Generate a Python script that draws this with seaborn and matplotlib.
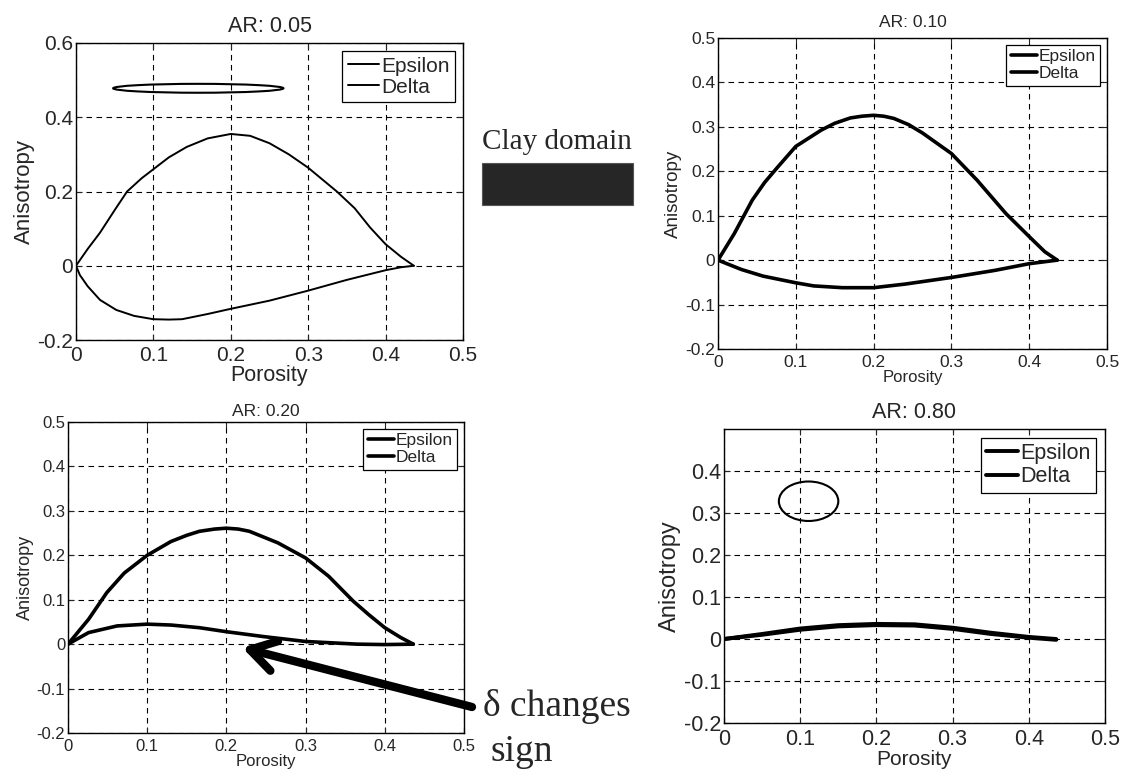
import matplotlib
matplotlib.use("Agg")
import matplotlib.pyplot as plt
from matplotlib.patches import Ellipse, Rectangle
import seaborn as sns
import pandas as pd

sns.set_style("ticks")
plt.rcParams['font.family'] = ['Liberation Sans', 'DejaVu Sans']

# ---------------- data ----------------
titles = ["AR: 0.05", "AR: 0.10", "AR: 0.20", "AR: 0.80"]
series_names = ["Epsilon", "Delta"]

# AR 0.05
eps05_x = [0, 0.015, 0.031, 0.05, 0.066, 0.085, 0.1, 0.12, 0.143, 0.17, 0.2, 0.225, 0.25, 0.275, 0.3, 0.337, 0.36, 0.38, 0.4, 0.42, 0.4365]
eps05_y = [0, 0.045, 0.089, 0.15, 0.2, 0.236, 0.26, 0.292, 0.32, 0.343, 0.355, 0.35, 0.33, 0.3, 0.264, 0.2, 0.155, 0.103, 0.058, 0.024, 0]
del05_x = [0, 0.005, 0.015, 0.031, 0.052, 0.075, 0.1, 0.12, 0.137, 0.17, 0.2, 0.25, 0.3, 0.35, 0.4, 0.42, 0.4365]
del05_y = [0, -0.025, -0.055, -0.092, -0.119, -0.135, -0.144, -0.145, -0.144, -0.13, -0.116, -0.094, -0.067, -0.038, -0.012, -0.004, 0]

# AR 0.10
eps10_x = [0, 0.021, 0.044, 0.06, 0.077, 0.1, 0.133, 0.15, 0.17, 0.185, 0.2, 0.213, 0.226, 0.245, 0.263, 0.3, 0.333, 0.37, 0.4, 0.42, 0.436]
eps10_y = [0, 0.06, 0.135, 0.175, 0.21, 0.256, 0.293, 0.308, 0.32, 0.324, 0.326, 0.324, 0.319, 0.305, 0.286, 0.24, 0.18, 0.105, 0.053, 0.019, 0]
del10_x = [0, 0.03, 0.058, 0.1, 0.123, 0.16, 0.2, 0.24, 0.3, 0.356, 0.4, 0.436]
del10_y = [0, -0.021, -0.036, -0.051, -0.058, -0.062, -0.062, -0.054, -0.039, -0.023, -0.008, 0]

# AR 0.20
eps20_x = [0, 0.026, 0.049, 0.071, 0.1, 0.13, 0.15, 0.166, 0.185, 0.2, 0.215, 0.229, 0.265, 0.3, 0.329, 0.36, 0.38, 0.4, 0.42, 0.436]
eps20_y = [0, 0.056, 0.116, 0.16, 0.2, 0.231, 0.245, 0.254, 0.259, 0.261, 0.259, 0.254, 0.228, 0.194, 0.153, 0.097, 0.066, 0.037, 0.015, 0]
del20_x = [0, 0.026, 0.062, 0.1, 0.13, 0.166, 0.2, 0.247, 0.3, 0.365, 0.4, 0.436]
del20_y = [0, 0.026, 0.041, 0.045, 0.043, 0.037, 0.028, 0.017, 0.006, 0.0, -0.001, 0]

# AR 0.80
eps80_x = [0, 0.05, 0.1, 0.15, 0.2, 0.25, 0.3, 0.35, 0.4, 0.436]
eps80_y = [0, 0.012, 0.025, 0.033, 0.036, 0.035, 0.027, 0.015, 0.005, 0]
del80_x = [0, 0.05, 0.1, 0.15, 0.2, 0.25, 0.3, 0.35, 0.4, 0.436]
del80_y = [0, 0.010, 0.022, 0.030, 0.033, 0.032, 0.024, 0.012, 0.003, -0.002]

xticks = [0, 0.1, 0.2, 0.3, 0.4, 0.5]
xticklabels = ["0", "0.1", "0.2", "0.3", "0.4", "0.5"]
yticks_a = [-0.2, 0, 0.2, 0.4, 0.6]
yticklabels_a = ["-0.2", "0", "0.2", "0.4", "0.6"]
yticks_b = [-0.2, -0.1, 0, 0.1, 0.2, 0.3, 0.4, 0.5]
yticklabels_b = ["-0.2", "-0.1", "0", "0.1", "0.2", "0.3", "0.4", "0.5"]
yticks_c = [-0.2, -0.1, 0, 0.1, 0.2, 0.3, 0.4]
yticklabels_c = ["-0.2", "-0.1", "0", "0.1", "0.2", "0.3", "0.4"]

# pore-shape ellipses (center x, center y, width, height)
ellipse05 = (0.158, 0.478, 0.22, 0.024)
ellipse80 = (0.111, 0.328, 0.078, 0.094)

# ---------------- figure ----------------
W, H = 1129, 776
fig = plt.figure(figsize=(W / 100, H / 100), dpi=100)


def px_rect(left, top, right, bottom):
    return [left / W, 1 - bottom / H, (right - left) / W, (bottom - top) / H]


panels = [
    dict(rect=px_rect(76, 43, 463, 340), ex=eps05_x, ey=eps05_y, dx=del05_x, dy=del05_y,
         ylim=(-0.2, 0.6), yt=yticks_a, ytl=yticklabels_a, lw=1.4,
         tick_fs=15, title_fs=15.5, ylab_fs=16, xlab_fs=15.5, leg_fs=15, tpad=8),
    dict(rect=px_rect(718, 38, 1107, 349), ex=eps10_x, ey=eps10_y, dx=del10_x, dy=del10_y,
         ylim=(-0.2, 0.5), yt=yticks_b, ytl=yticklabels_b, lw=2.6,
         tick_fs=12.5, title_fs=12.5, ylab_fs=13.5, xlab_fs=12, leg_fs=12.5, tpad=8),
    dict(rect=px_rect(68, 422, 464, 733), ex=eps20_x, ey=eps20_y, dx=del20_x, dy=del20_y,
         ylim=(-0.2, 0.5), yt=yticks_b, ytl=yticklabels_b, lw=2.6,
         tick_fs=12, title_fs=12.5, ylab_fs=13, xlab_fs=12, leg_fs=12.5, tpad=4),
    dict(rect=px_rect(724, 429, 1105, 723), ex=eps80_x, ey=eps80_y, dx=del80_x, dy=del80_y,
         ylim=(-0.2, 0.5), yt=yticks_c, ytl=yticklabels_c, lw=2.8,
         tick_fs=15.5, title_fs=15.5, ylab_fs=17, xlab_fs=15, leg_fs=15.5, tpad=8),
]

axes = []
for i, p in enumerate(panels):
    ax = fig.add_axes(p["rect"])
    df = pd.concat([
        pd.DataFrame({"Porosity": p["ex"], "Anisotropy": p["ey"], "series": series_names[0]}),
        pd.DataFrame({"Porosity": p["dx"], "Anisotropy": p["dy"], "series": series_names[1]}),
    ])
    sns.lineplot(data=df, x="Porosity", y="Anisotropy", hue="series",
                 palette={"Epsilon": "black", "Delta": "black"},
                 sort=False, estimator=None, linewidth=p["lw"], ax=ax, zorder=3,
                 solid_joinstyle="round", solid_capstyle="round")
    ax.set_xlim(0, 0.5)
    ax.set_ylim(*p["ylim"])
    ax.set_xticks(xticks)
    ax.set_xticklabels(xticklabels)
    ax.set_yticks(p["yt"])
    ax.set_yticklabels(p["ytl"])
    ax.grid(True, color="black", linestyle=(0, (5, 4)), linewidth=0.8)
    ax.tick_params(direction="in", top=True, right=True, length=4, width=0.8,
                   labelsize=p["tick_fs"])
    ax.tick_params(axis="x", pad=4)
    ax.tick_params(axis="y", pad=2)
    for s in ax.spines.values():
        s.set_linewidth(1.0)
        s.set_color("black")
    ax.set_title(titles[i], fontsize=p["title_fs"], pad=p["tpad"])
    ax.set_xlabel("Porosity", fontsize=p["xlab_fs"], labelpad=0)
    ax.set_ylabel("Anisotropy", fontsize=p["ylab_fs"], labelpad=2)
    leg = ax.legend(loc="upper right", fontsize=p["leg_fs"], frameon=True, fancybox=False,
                    edgecolor="black", framealpha=1, handlelength=1.5, handletextpad=0.1,
                    borderpad=0.25, labelspacing=0.1, borderaxespad=0.4)
    leg.get_frame().set_linewidth(0.9)
    axes.append(ax)

# pore shapes
for ax, e in [(axes[0], ellipse05), (axes[3], ellipse80)]:
    ax.add_patch(Ellipse((e[0], e[1]), e[2], e[3], fill=False, edgecolor="black",
                         linewidth=1.5, zorder=4))

# Clay domain label and box
fig.text(482 / W, 1 - 149 / H, "Clay domain", family=["Liberation Serif", "DejaVu Serif"],
         fontsize=21, ha="left", va="baseline")
fig.patches.append(Rectangle((482 / W, 1 - 205 / H), 151 / W, 42 / H, transform=fig.transFigure,
                             facecolor="#262626", edgecolor="#555555", linewidth=0.8))

# delta changes sign annotation
axes[2].annotate("", xy=(0.22, -0.008), xycoords="data",
                 xytext=(472, H - 707), textcoords="figure pixels",
                 arrowprops=dict(arrowstyle="->, head_length=0.9, head_width=0.55",
                                 lw=6, color="black", mutation_scale=20,
                                 shrinkA=0, shrinkB=0),
                 annotation_clip=False)
fig.text(483 / W, 1 - 707 / H, "δ changes", family=["Liberation Serif", "DejaVu Serif"],
         fontsize=27, ha="left", va="center")
fig.text(490 / W, 1 - 752 / H, "sign", family=["Liberation Serif", "DejaVu Serif"],
         fontsize=27, ha="left", va="center")

fig.savefig("out.png", dpi=100)
